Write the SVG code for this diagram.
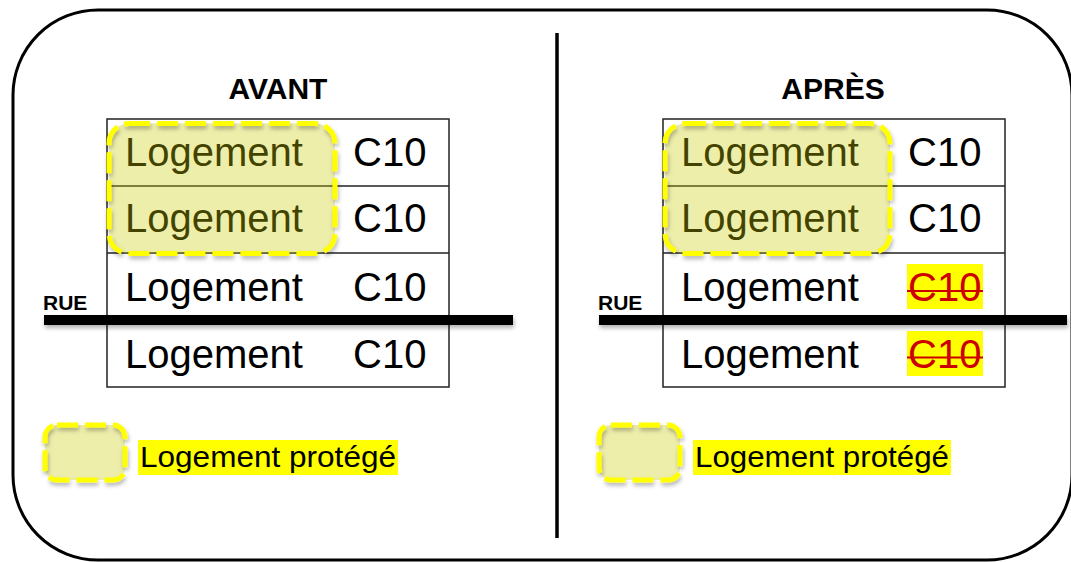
<svg xmlns="http://www.w3.org/2000/svg" width="1071" height="562" viewBox="0 0 1071 562">
  <defs>
    <filter id="shadow" filterUnits="userSpaceOnUse" x="0" y="0" width="1071" height="562">
      <feDropShadow dx="1" dy="3" stdDeviation="2" flood-color="#000" flood-opacity="0.3"/>
    </filter>
  </defs>
  <style>
    text { font-family: "Liberation Sans", Arial, sans-serif; }
    .title { font-size: 30px; font-weight: bold; fill: #000; text-anchor: middle; }
    .rue { font-size: 21px; font-weight: bold; fill: #000; }
    .cell { font-size: 40px; fill: #000; }
    .struck { font-size: 40px; fill: #CC0000; }
    .legend { font-size: 30px; fill: #000; }
    .tbl { fill: #fff; stroke: #222; stroke-width: 1.5; }
    .row { stroke: #222; stroke-width: 1.5; }
    .road { fill: #000; filter: url(#shadow); }
    .prot-fill { fill: rgb(204,204,0); fill-opacity: 0.33; stroke: none; }
    .prot-line { fill: none; stroke: #FFFF00; stroke-width: 5; stroke-dasharray: 21 7; filter: url(#shadow); }
    .hl { fill: #FFFF00; }
    .strike { stroke: #CC0000; stroke-width: 2; }
  </style>

  <g id="frame">
    <rect x="13" y="10" width="1059" height="550" rx="85" ry="85" fill="#fff" stroke="#000" stroke-width="3"/>
  </g>

  <g id="divider">
    <line x1="557" y1="33" x2="557" y2="538" stroke="#000" stroke-width="3.5"/>
  </g>

  <!-- AVANT panel -->
  <g id="avant">
    <text class="title" x="278" y="99">AVANT</text>
    <rect class="tbl" x="107" y="119" width="342" height="268"/>
    <line class="row" x1="107" y1="186" x2="449" y2="186"/>
    <line class="row" x1="107" y1="253" x2="449" y2="253"/>
    <line class="row" x1="107" y1="320" x2="449" y2="320"/>
    <text class="cell" x="125" y="166">Logement</text>
    <text class="cell" x="353" y="166">C10</text>
    <text class="cell" x="125" y="232">Logement</text>
    <text class="cell" x="353" y="232">C10</text>
    <text class="cell" x="125" y="301">Logement</text>
    <text class="cell" x="353" y="301">C10</text>
    <text class="cell" x="125" y="368">Logement</text>
    <text class="cell" x="353" y="368">C10</text>
  </g>
  <g id="avant-protected">
    <rect class="prot-fill" x="109" y="123.5" width="226" height="130" rx="20" ry="20"/>
    <rect class="prot-line" x="109" y="123.5" width="226" height="130" rx="20" ry="20"/>
  </g>
  <g id="avant-road">
    <rect class="road" x="44" y="315" width="469" height="10"/>
    <text class="rue" x="43" y="310">RUE</text>
  </g>
  <g id="avant-legend">
    <rect class="prot-fill" x="45" y="425" width="80" height="55" rx="12" ry="12"/>
    <rect class="prot-line" x="45" y="425" width="80" height="55" rx="12" ry="12"/>
    <rect class="hl" x="138" y="440" width="260" height="35"/>
    <text class="legend" x="140" y="467" textLength="256" lengthAdjust="spacingAndGlyphs">Logement protégé</text>
  </g>

  <!-- APRES panel -->
  <g id="apres">
    <text class="title" x="833" y="99">APRÈS</text>
    <rect class="tbl" x="663" y="119" width="342" height="268"/>
    <line class="row" x1="663" y1="186" x2="1005" y2="186"/>
    <line class="row" x1="663" y1="253" x2="1005" y2="253"/>
    <line class="row" x1="663" y1="320" x2="1005" y2="320"/>
    <text class="cell" x="681" y="166">Logement</text>
    <text class="cell" x="908" y="166">C10</text>
    <text class="cell" x="681" y="232">Logement</text>
    <text class="cell" x="908" y="232">C10</text>
    <text class="cell" x="681" y="301">Logement</text>
    <rect class="hl" x="907" y="264" width="76" height="45"/>
    <text class="struck" x="908" y="301">C10</text>
    <line class="strike" x1="907" y1="291" x2="983" y2="291"/>
    <text class="cell" x="681" y="368">Logement</text>
    <rect class="hl" x="907" y="331" width="76" height="45"/>
    <text class="struck" x="908" y="368">C10</text>
    <line class="strike" x1="907" y1="357.5" x2="983" y2="357.5"/>
  </g>
  <g id="apres-protected">
    <rect class="prot-fill" x="665" y="123.5" width="225" height="130" rx="20" ry="20"/>
    <rect class="prot-line" x="665" y="123.5" width="225" height="130" rx="20" ry="20"/>
  </g>
  <g id="apres-road">
    <rect class="road" x="599" y="315" width="468" height="10"/>
    <text class="rue" x="598" y="310">RUE</text>
  </g>
  <g id="apres-legend">
    <rect class="prot-fill" x="599" y="425" width="81" height="55" rx="12" ry="12"/>
    <rect class="prot-line" x="599" y="425" width="81" height="55" rx="12" ry="12"/>
    <rect class="hl" x="693" y="440" width="258" height="35"/>
    <text class="legend" x="695" y="467" textLength="254" lengthAdjust="spacingAndGlyphs">Logement protégé</text>
  </g>
</svg>
